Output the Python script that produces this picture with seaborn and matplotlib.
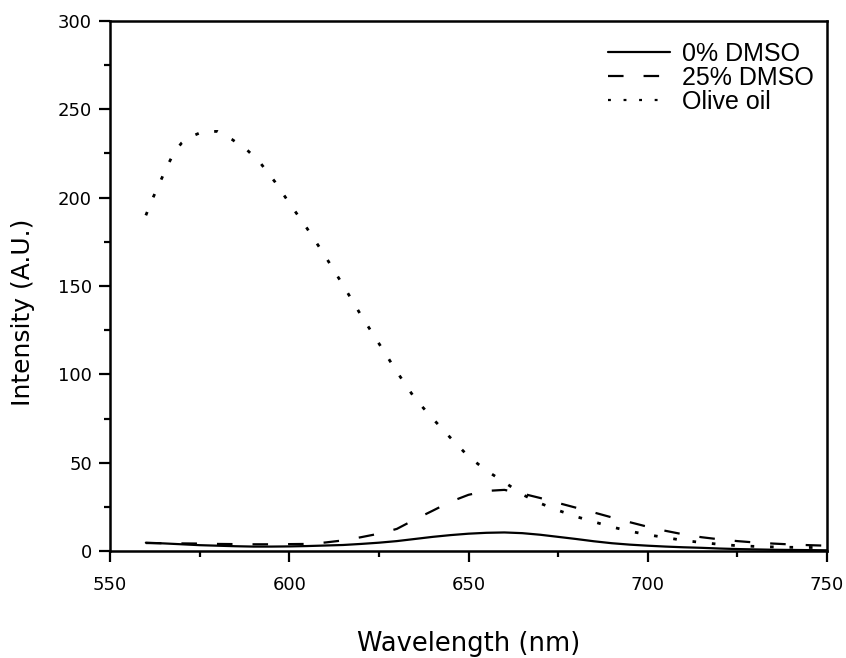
import matplotlib
matplotlib.use("Agg")
import matplotlib.pyplot as plt
import seaborn as sns
import pandas as pd
from matplotlib.ticker import MultipleLocator

# ---- data ----
wl_olive = [560, 562, 564, 566, 568, 570, 572, 576, 580, 584, 588, 592, 596, 600,
            605, 610, 615, 620, 625, 630, 635, 640, 645, 650, 655, 660, 665, 670,
            675, 680, 685, 690, 695, 700, 705, 710, 715, 720, 725, 730, 735, 740,
            745, 750]
olive_oil = [190, 200, 209, 218, 226, 231, 234, 237.5, 237.5, 233, 227.5, 219.5, 209, 197,
             182.5, 167, 150.5, 133.5, 117.5, 101.5, 86.5, 75, 64, 53.5, 45.5, 39, 32, 27,
             23, 19.5, 16.5, 13.6, 11.2, 9.2, 7.6, 6.0, 4.8, 3.8, 3.0, 2.6, 2.3, 2.1,
             2.0, 1.9]

wl = [560, 565, 570, 575, 580, 585, 590, 595, 600, 605, 610, 615, 620, 625, 630,
      635, 640, 645, 650, 655, 660, 665, 670, 675, 680, 685, 690, 695, 700, 705,
      710, 715, 720, 725, 730, 735, 740, 745, 750]
dmso_25 = [4.5, 4.4, 4.3, 4.2, 4.0, 3.9, 3.8, 3.8, 3.9, 4.0, 4.8, 6.0, 7.8, 9.8, 12.5,
           17.8, 22.8, 27.9, 31.8, 34.0, 34.6, 32.5, 30.0, 27.2, 24.5, 21.8, 19.0, 16.3, 13.7, 11.4,
           9.4, 7.8, 6.6, 5.6, 4.8, 4.2, 3.7, 3.3, 3.0]
dmso_0 = [4.7, 4.3, 3.8, 3.3, 3.0, 2.7, 2.5, 2.5, 2.6, 2.8, 3.1, 3.4, 4.0, 4.7, 5.6,
          6.8, 8.0, 9.0, 9.8, 10.3, 10.5, 10.1, 9.2, 8.0, 6.8, 5.5, 4.4, 3.6, 3.0, 2.5,
          2.1, 1.8, 1.4, 1.1, 0.9, 0.7, 0.6, 0.5, 0.4]

labels = ["0% DMSO", "25% DMSO", "Olive oil"]

# ---- style ----
sns.set_style("ticks")
plt.rcParams["font.family"] = ["DejaVu Sans"]
plt.rcParams["text.color"] = "black"
plt.rcParams["axes.labelcolor"] = "black"
plt.rcParams["xtick.color"] = "black"
plt.rcParams["ytick.color"] = "black"

fig = plt.figure(figsize=(8.46, 6.58), dpi=100)
ax = fig.add_axes([110/846, 1 - 551/658, 717/846, 530/658])

df0 = pd.DataFrame({"Wavelength": wl, "Intensity": dmso_0})
df25 = pd.DataFrame({"Wavelength": wl, "Intensity": dmso_25})
dfo = pd.DataFrame({"Wavelength": wl_olive, "Intensity": olive_oil})

sns.lineplot(data=df0, x="Wavelength", y="Intensity", ax=ax, color="black",
             linewidth=1.6, label=labels[0], linestyle="-")
sns.lineplot(data=df25, x="Wavelength", y="Intensity", ax=ax, color="black",
             linewidth=1.6, label=labels[1], linestyle=(0, (7, 9)))
sns.lineplot(data=dfo, x="Wavelength", y="Intensity", ax=ax, color="black",
             linewidth=2.0, label=labels[2], linestyle=(0, (1.3, 5.7)))

ax.set_xlim(550, 750)
ax.set_ylim(0, 300)
ax.xaxis.set_major_locator(MultipleLocator(50))
ax.xaxis.set_minor_locator(MultipleLocator(25))
ax.yaxis.set_major_locator(MultipleLocator(50))
ax.yaxis.set_minor_locator(MultipleLocator(25))

for s in ax.spines.values():
    s.set_visible(True)
    s.set_linewidth(1.8)
    s.set_color("black")

ax.tick_params(axis="both", which="major", direction="out", length=8, width=1.6,
               labelsize=13, colors="black")
ax.tick_params(axis="x", which="major", pad=10)
ax.tick_params(axis="y", which="major", pad=5)
ax.tick_params(axis="both", which="minor", direction="out", length=4.5, width=1.6)
ax.tick_params(top=False, right=False, which="both")

ax.set_xlabel("Wavelength (nm)", fontsize=18.5, color="black")
ax.set_ylabel("Intensity (A.U.)", fontsize=18, color="black")
ax.xaxis.set_label_coords(0.5, -0.151)
ax.yaxis.set_label_coords(-0.105, 0.451)

leg = ax.legend(loc="upper right", frameon=False,
                prop={"family": "Liberation Sans", "size": 18},
                handlelength=2.5, handletextpad=0.45, labelspacing=0.0,
                borderaxespad=0.0, bbox_to_anchor=(0.995, 0.979))
for h in leg.get_lines():
    h.set_linewidth(1.6)
for t in leg.get_texts():
    t.set_color("black")

fig.savefig("out.png", dpi=100, facecolor="white")
